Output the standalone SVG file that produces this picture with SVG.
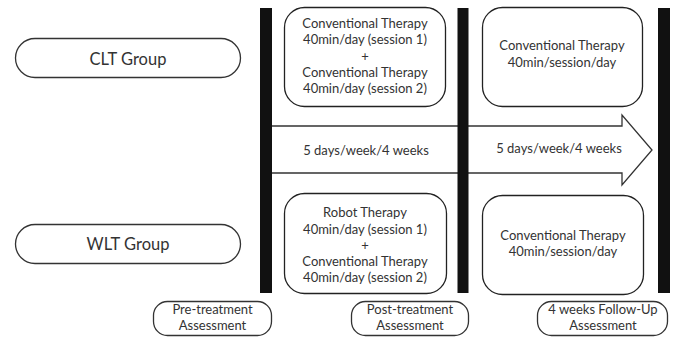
<svg xmlns="http://www.w3.org/2000/svg" width="673" height="337" viewBox="0 0 673 337">
<style>
  .pill { fill: #fff; stroke: #333; stroke-width: 1.3; }
  .box { fill: #fff; stroke: #222; stroke-width: 1.3; }
  .bar { fill: #111; }
  text { font-family: Lato, "Open Sans", sans-serif; fill: #333; text-anchor: middle; }
  .g { font-size: 16.5px; }
  .t { font-size: 13px; }
  .a { font-size: 13px; }
</style>
<rect width="673" height="337" fill="#fff"/>
<g id="connectors">
  <path d="M266 126 H622 V115 L652 150 L622 185 V173 H266 Z" fill="#fff" stroke="#333" stroke-width="1.3"/>
  <text class="t" x="366" y="155">5 days/week/4 weeks</text>
  <text class="t" x="559" y="153">5 days/week/4 weeks</text>
</g>
<g id="bar-pre"><rect class="bar" x="260" y="8" width="12" height="285"/></g>
<g id="bar-post"><rect class="bar" x="457.5" y="8" width="11" height="285"/></g>
<g id="bar-follow"><rect class="bar" x="658" y="8" width="12" height="285"/></g>
<g id="clt-group">
  <rect class="pill" x="15.5" y="38.5" width="225" height="39" rx="19.5"/>
  <text class="g" x="128" y="65">CLT Group</text>
</g>
<g id="wlt-group">
  <rect class="pill" x="15.5" y="224.5" width="225" height="39" rx="19.5"/>
  <text class="g" x="128" y="250">WLT Group</text>
</g>
<g id="clt-treatment">
  <rect class="box" x="284.5" y="7.5" width="161" height="99" rx="20"/>
  <text class="t" x="365" y="28">Conventional Therapy</text>
  <text class="t" x="365" y="44">40min/day (session 1)</text>
  <text class="t" x="365" y="61">+</text>
  <text class="t" x="365" y="77">Conventional Therapy</text>
  <text class="t" x="365" y="93">40min/day (session 2)</text>
</g>
<g id="clt-followup">
  <rect class="box" x="482.5" y="7.5" width="160" height="99" rx="20"/>
  <text class="t" x="562" y="50">Conventional Therapy</text>
  <text class="t" x="562" y="67">40min/session/day</text>
</g>
<g id="wlt-treatment">
  <rect class="box" x="284.5" y="193.5" width="162" height="100" rx="20"/>
  <text class="t" x="365" y="217">Robot Therapy</text>
  <text class="t" x="365" y="233.5">40min/day (session 1)</text>
  <text class="t" x="365" y="250">+</text>
  <text class="t" x="365" y="266">Conventional Therapy</text>
  <text class="t" x="365" y="282">40min/day (session 2)</text>
</g>
<g id="wlt-followup">
  <rect class="box" x="482.5" y="195.5" width="161" height="99" rx="20"/>
  <text class="t" x="563" y="240">Conventional Therapy</text>
  <text class="t" x="563" y="256">40min/session/day</text>
</g>
<g id="pre-assessment">
  <rect class="pill" x="153.5" y="301.5" width="118" height="34" rx="14"/>
  <text class="a" x="212.5" y="314">Pre-treatment</text>
  <text class="a" x="212.5" y="330">Assessment</text>
</g>
<g id="post-assessment">
  <rect class="pill" x="351.5" y="301.5" width="117" height="34" rx="14"/>
  <text class="a" x="410" y="314">Post-treatment</text>
  <text class="a" x="410" y="330">Assessment</text>
</g>
<g id="followup-assessment">
  <rect class="pill" x="537.5" y="301.5" width="130" height="34" rx="14"/>
  <text class="a" x="603" y="314">4 weeks Follow-Up</text>
  <text class="a" x="603" y="330">Assessment</text>
</g>
</svg>
